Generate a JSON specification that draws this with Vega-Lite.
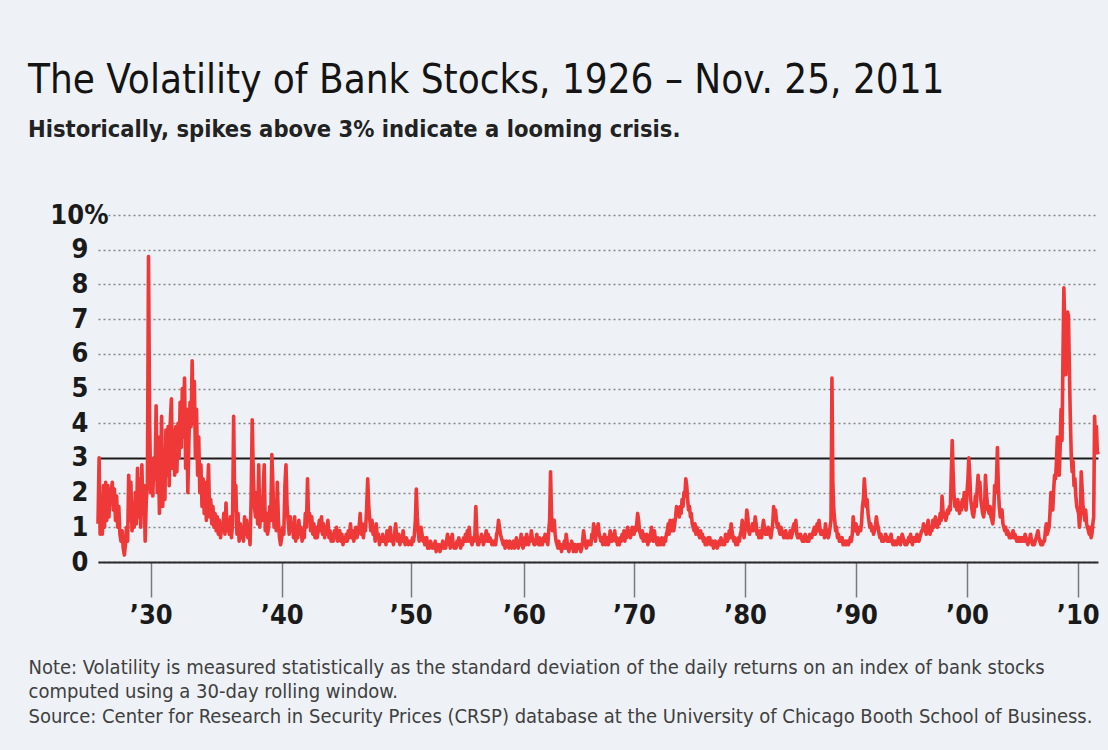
{
  "$schema": "https://vega.github.io/schema/vega-lite/v6.json",
  "autosize": {"type": "none"},
  "width": 1000,
  "height": 347,
  "padding": {"left": 98, "top": 215, "right": 10, "bottom": 188},
  "background": "#eef2f7",
  "config": {"view": {"stroke": null}, "font": "DejaVu Sans Condensed"},
  "title": {
    "text": "The Volatility of Bank Stocks, 1926 – Nov. 25, 2011",
    "subtitle": "Historically, spikes above 3% indicate a looming crisis.",
    "anchor": "start",
    "frame": "group",
    "dx": -70,
    "offset": 60,
    "font": "DejaVu Sans Condensed",
    "fontSize": 40,
    "fontWeight": "normal",
    "color": "#141414",
    "subtitleFont": "DejaVu Sans Condensed",
    "subtitleFontSize": 23.5,
    "subtitleFontWeight": "bold",
    "subtitleColor": "#222222",
    "subtitlePadding": 17
  },
  "data": {
    "format": {"parse": {"d": "date"}},
    "values": [
      {"d":"1926-01","v":1.1},{"d":"1926-02","v":3.0},{"d":"1926-03","v":0.8},{"d":"1926-04","v":1.6},{"d":"1926-05","v":0.8},{"d":"1926-06","v":2.2},{"d":"1926-07","v":1.0},{"d":"1926-08","v":2.3},{"d":"1926-09","v":1.2},{"d":"1926-10","v":2.2},{"d":"1926-11","v":1.3},{"d":"1926-12","v":2.1},
      {"d":"1927-01","v":2.0},{"d":"1927-02","v":2.3},{"d":"1927-03","v":1.5},{"d":"1927-04","v":2.1},{"d":"1927-05","v":1.2},{"d":"1927-06","v":1.9},{"d":"1927-07","v":1.0},{"d":"1927-08","v":1.6},{"d":"1927-09","v":0.8},{"d":"1927-10","v":0.6},{"d":"1927-11","v":0.9},{"d":"1927-12","v":0.4},
      {"d":"1928-01","v":0.2},{"d":"1928-02","v":0.5},{"d":"1928-03","v":1.0},{"d":"1928-04","v":0.6},{"d":"1928-05","v":2.5},{"d":"1928-06","v":1.2},{"d":"1928-07","v":2.3},{"d":"1928-08","v":0.9},{"d":"1928-09","v":1.4},{"d":"1928-10","v":1.0},{"d":"1928-11","v":2.0},{"d":"1928-12","v":1.1},
      {"d":"1929-01","v":2.7},{"d":"1929-02","v":1.3},{"d":"1929-03","v":2.4},{"d":"1929-04","v":1.0},{"d":"1929-05","v":2.8},{"d":"1929-06","v":1.4},{"d":"1929-07","v":2.2},{"d":"1929-08","v":0.6},{"d":"1929-09","v":1.8},{"d":"1929-10","v":2.2},{"d":"1929-11","v":8.8},{"d":"1929-12","v":4.2},
      {"d":"1930-01","v":2.0},{"d":"1930-02","v":2.7},{"d":"1930-03","v":1.9},{"d":"1930-04","v":3.0},{"d":"1930-05","v":2.4},{"d":"1930-06","v":4.5},{"d":"1930-07","v":2.0},{"d":"1930-08","v":3.6},{"d":"1930-09","v":1.4},{"d":"1930-10","v":2.5},{"d":"1930-11","v":4.2},{"d":"1930-12","v":1.6},
      {"d":"1931-01","v":3.0},{"d":"1931-02","v":1.8},{"d":"1931-03","v":3.8},{"d":"1931-04","v":2.5},{"d":"1931-05","v":3.9},{"d":"1931-06","v":2.2},{"d":"1931-07","v":4.0},{"d":"1931-08","v":4.7},{"d":"1931-09","v":2.7},{"d":"1931-10","v":3.8},{"d":"1931-11","v":2.5},{"d":"1931-12","v":3.9},
      {"d":"1932-01","v":2.6},{"d":"1932-02","v":4.0},{"d":"1932-03","v":3.0},{"d":"1932-04","v":4.6},{"d":"1932-05","v":3.3},{"d":"1932-06","v":5.0},{"d":"1932-07","v":3.6},{"d":"1932-08","v":5.3},{"d":"1932-09","v":2.7},{"d":"1932-10","v":4.4},{"d":"1932-11","v":2.0},{"d":"1932-12","v":3.5},
      {"d":"1933-01","v":4.6},{"d":"1933-02","v":3.9},{"d":"1933-03","v":5.8},{"d":"1933-04","v":4.0},{"d":"1933-05","v":5.2},{"d":"1933-06","v":3.0},{"d":"1933-07","v":4.4},{"d":"1933-08","v":2.5},{"d":"1933-09","v":3.6},{"d":"1933-10","v":2.0},{"d":"1933-11","v":2.8},{"d":"1933-12","v":1.6},
      {"d":"1934-01","v":2.4},{"d":"1934-02","v":1.4},{"d":"1934-03","v":2.3},{"d":"1934-04","v":1.2},{"d":"1934-05","v":1.9},{"d":"1934-06","v":2.8},{"d":"1934-07","v":1.3},{"d":"1934-08","v":1.8},{"d":"1934-09","v":1.1},{"d":"1934-10","v":1.6},{"d":"1934-11","v":1.0},{"d":"1934-12","v":1.4},
      {"d":"1935-01","v":0.9},{"d":"1935-02","v":1.3},{"d":"1935-03","v":0.8},{"d":"1935-04","v":1.2},{"d":"1935-05","v":0.7},{"d":"1935-06","v":1.0},{"d":"1935-07","v":0.9},{"d":"1935-08","v":1.4},{"d":"1935-09","v":0.8},{"d":"1935-10","v":1.7},{"d":"1935-11","v":0.9},{"d":"1935-12","v":1.2},
      {"d":"1936-01","v":0.8},{"d":"1936-02","v":1.3},{"d":"1936-03","v":0.7},{"d":"1936-04","v":1.1},{"d":"1936-05","v":4.2},{"d":"1936-06","v":1.5},{"d":"1936-07","v":2.2},{"d":"1936-08","v":0.8},{"d":"1936-09","v":1.4},{"d":"1936-10","v":0.6},{"d":"1936-11","v":1.1},{"d":"1936-12","v":0.7},
      {"d":"1937-01","v":1.0},{"d":"1937-02","v":0.6},{"d":"1937-03","v":1.3},{"d":"1937-04","v":0.8},{"d":"1937-05","v":1.2},{"d":"1937-06","v":0.7},{"d":"1937-07","v":1.0},{"d":"1937-08","v":0.5},{"d":"1937-09","v":1.8},{"d":"1937-10","v":4.1},{"d":"1937-11","v":2.5},{"d":"1937-12","v":1.6},
      {"d":"1938-01","v":1.3},{"d":"1938-02","v":2.0},{"d":"1938-03","v":1.1},{"d":"1938-04","v":2.8},{"d":"1938-05","v":1.0},{"d":"1938-06","v":1.8},{"d":"1938-07","v":1.2},{"d":"1938-08","v":2.0},{"d":"1938-09","v":2.8},{"d":"1938-10","v":0.9},{"d":"1938-11","v":1.4},{"d":"1938-12","v":0.8},
      {"d":"1939-01","v":1.0},{"d":"1939-02","v":1.6},{"d":"1939-03","v":1.2},{"d":"1939-04","v":3.1},{"d":"1939-05","v":2.2},{"d":"1939-06","v":1.0},{"d":"1939-07","v":1.5},{"d":"1939-08","v":0.9},{"d":"1939-09","v":2.3},{"d":"1939-10","v":1.2},{"d":"1939-11","v":0.7},{"d":"1939-12","v":0.5},
      {"d":"1940-01","v":0.7},{"d":"1940-02","v":1.0},{"d":"1940-03","v":0.8},{"d":"1940-04","v":2.2},{"d":"1940-05","v":2.8},{"d":"1940-06","v":1.6},{"d":"1940-07","v":1.2},{"d":"1940-08","v":0.8},{"d":"1940-09","v":1.3},{"d":"1940-10","v":0.9},{"d":"1940-11","v":1.1},{"d":"1940-12","v":0.7},
      {"d":"1941-01","v":1.3},{"d":"1941-02","v":0.6},{"d":"1941-03","v":0.9},{"d":"1941-04","v":0.7},{"d":"1941-05","v":1.2},{"d":"1941-06","v":0.8},{"d":"1941-07","v":1.0},{"d":"1941-08","v":0.6},{"d":"1941-09","v":0.9},{"d":"1941-10","v":0.7},{"d":"1941-11","v":1.4},{"d":"1941-12","v":1.0},
      {"d":"1942-01","v":2.4},{"d":"1942-02","v":1.2},{"d":"1942-03","v":1.4},{"d":"1942-04","v":0.9},{"d":"1942-05","v":1.3},{"d":"1942-06","v":0.8},{"d":"1942-07","v":1.1},{"d":"1942-08","v":0.7},{"d":"1942-09","v":1.0},{"d":"1942-10","v":0.7},{"d":"1942-11","v":0.9},{"d":"1942-12","v":1.2},
      {"d":"1943-01","v":0.9},{"d":"1943-02","v":1.3},{"d":"1943-03","v":0.8},{"d":"1943-04","v":1.1},{"d":"1943-05","v":0.7},{"d":"1943-06","v":1.0},{"d":"1943-07","v":0.8},{"d":"1943-08","v":1.2},{"d":"1943-09","v":0.7},{"d":"1943-10","v":0.9},{"d":"1943-11","v":0.6},{"d":"1943-12","v":0.8},
      {"d":"1944-01","v":0.6},{"d":"1944-02","v":0.9},{"d":"1944-03","v":0.7},{"d":"1944-04","v":1.0},{"d":"1944-05","v":0.6},{"d":"1944-06","v":0.8},{"d":"1944-07","v":0.9},{"d":"1944-08","v":0.6},{"d":"1944-09","v":0.8},{"d":"1944-10","v":0.5},{"d":"1944-11","v":0.7},{"d":"1944-12","v":0.6},
      {"d":"1945-01","v":0.8},{"d":"1945-02","v":0.6},{"d":"1945-03","v":0.9},{"d":"1945-04","v":0.7},{"d":"1945-05","v":1.1},{"d":"1945-06","v":0.7},{"d":"1945-07","v":0.9},{"d":"1945-08","v":0.6},{"d":"1945-09","v":0.8},{"d":"1945-10","v":1.0},{"d":"1945-11","v":0.7},{"d":"1945-12","v":0.9},
      {"d":"1946-01","v":1.0},{"d":"1946-02","v":1.4},{"d":"1946-03","v":0.8},{"d":"1946-04","v":1.1},{"d":"1946-05","v":0.7},{"d":"1946-06","v":1.0},{"d":"1946-07","v":0.9},{"d":"1946-08","v":1.5},{"d":"1946-09","v":2.4},{"d":"1946-10","v":1.6},{"d":"1946-11","v":1.2},{"d":"1946-12","v":0.9},
      {"d":"1947-01","v":1.2},{"d":"1947-02","v":0.8},{"d":"1947-03","v":1.0},{"d":"1947-04","v":0.6},{"d":"1947-05","v":1.1},{"d":"1947-06","v":0.7},{"d":"1947-07","v":0.8},{"d":"1947-08","v":0.5},{"d":"1947-09","v":0.7},{"d":"1947-10","v":0.6},{"d":"1947-11","v":0.8},{"d":"1947-12","v":0.6},
      {"d":"1948-01","v":0.7},{"d":"1948-02","v":0.5},{"d":"1948-03","v":0.9},{"d":"1948-04","v":0.6},{"d":"1948-05","v":0.8},{"d":"1948-06","v":1.0},{"d":"1948-07","v":0.6},{"d":"1948-08","v":0.7},{"d":"1948-09","v":0.5},{"d":"1948-10","v":0.8},{"d":"1948-11","v":1.1},{"d":"1948-12","v":0.7},
      {"d":"1949-01","v":0.6},{"d":"1949-02","v":0.8},{"d":"1949-03","v":0.5},{"d":"1949-04","v":0.7},{"d":"1949-05","v":0.6},{"d":"1949-06","v":0.9},{"d":"1949-07","v":0.6},{"d":"1949-08","v":0.5},{"d":"1949-09","v":0.7},{"d":"1949-10","v":0.6},{"d":"1949-11","v":0.5},{"d":"1949-12","v":0.6},
      {"d":"1950-01","v":0.6},{"d":"1950-02","v":0.5},{"d":"1950-03","v":0.7},{"d":"1950-04","v":0.6},{"d":"1950-05","v":0.8},{"d":"1950-06","v":1.2},{"d":"1950-07","v":2.1},{"d":"1950-08","v":1.3},{"d":"1950-09","v":0.9},{"d":"1950-10","v":0.6},{"d":"1950-11","v":0.8},{"d":"1950-12","v":1.0},
      {"d":"1951-01","v":0.8},{"d":"1951-02","v":0.6},{"d":"1951-03","v":0.7},{"d":"1951-04","v":0.5},{"d":"1951-05","v":0.6},{"d":"1951-06","v":0.7},{"d":"1951-07","v":0.4},{"d":"1951-08","v":0.5},{"d":"1951-09","v":0.4},{"d":"1951-10","v":0.6},{"d":"1951-11","v":0.5},{"d":"1951-12","v":0.4},
      {"d":"1952-01","v":0.5},{"d":"1952-02","v":0.4},{"d":"1952-03","v":0.6},{"d":"1952-04","v":0.3},{"d":"1952-05","v":0.5},{"d":"1952-06","v":0.4},{"d":"1952-07","v":0.5},{"d":"1952-08","v":0.3},{"d":"1952-09","v":0.4},{"d":"1952-10","v":0.5},{"d":"1952-11","v":0.6},{"d":"1952-12","v":0.4},
      {"d":"1953-01","v":0.5},{"d":"1953-02","v":0.4},{"d":"1953-03","v":0.6},{"d":"1953-04","v":0.8},{"d":"1953-05","v":0.5},{"d":"1953-06","v":0.7},{"d":"1953-07","v":0.4},{"d":"1953-08","v":0.6},{"d":"1953-09","v":0.8},{"d":"1953-10","v":0.5},{"d":"1953-11","v":0.4},{"d":"1953-12","v":0.5},
      {"d":"1954-01","v":0.4},{"d":"1954-02","v":0.6},{"d":"1954-03","v":0.5},{"d":"1954-04","v":0.7},{"d":"1954-05","v":0.5},{"d":"1954-06","v":0.4},{"d":"1954-07","v":0.6},{"d":"1954-08","v":0.5},{"d":"1954-09","v":0.7},{"d":"1954-10","v":0.6},{"d":"1954-11","v":0.8},{"d":"1954-12","v":0.6},
      {"d":"1955-01","v":0.9},{"d":"1955-02","v":0.6},{"d":"1955-03","v":1.0},{"d":"1955-04","v":0.7},{"d":"1955-05","v":0.6},{"d":"1955-06","v":0.5},{"d":"1955-07","v":0.7},{"d":"1955-08","v":0.6},{"d":"1955-09","v":0.8},{"d":"1955-10","v":1.6},{"d":"1955-11","v":0.9},{"d":"1955-12","v":0.5},
      {"d":"1956-01","v":0.5},{"d":"1956-02","v":0.7},{"d":"1956-03","v":0.6},{"d":"1956-04","v":0.8},{"d":"1956-05","v":0.7},{"d":"1956-06","v":0.5},{"d":"1956-07","v":0.6},{"d":"1956-08","v":0.7},{"d":"1956-09","v":0.9},{"d":"1956-10","v":0.6},{"d":"1956-11","v":0.8},{"d":"1956-12","v":0.6},
      {"d":"1957-01","v":0.7},{"d":"1957-02","v":0.6},{"d":"1957-03","v":0.5},{"d":"1957-04","v":0.6},{"d":"1957-05","v":0.5},{"d":"1957-06","v":0.6},{"d":"1957-07","v":0.5},{"d":"1957-08","v":0.8},{"d":"1957-09","v":0.9},{"d":"1957-10","v":1.2},{"d":"1957-11","v":1.0},{"d":"1957-12","v":0.8},
      {"d":"1958-01","v":0.7},{"d":"1958-02","v":0.6},{"d":"1958-03","v":0.5},{"d":"1958-04","v":0.6},{"d":"1958-05","v":0.4},{"d":"1958-06","v":0.5},{"d":"1958-07","v":0.6},{"d":"1958-08","v":0.5},{"d":"1958-09","v":0.4},{"d":"1958-10","v":0.6},{"d":"1958-11","v":0.5},{"d":"1958-12","v":0.4},
      {"d":"1959-01","v":0.5},{"d":"1959-02","v":0.6},{"d":"1959-03","v":0.4},{"d":"1959-04","v":0.5},{"d":"1959-05","v":0.7},{"d":"1959-06","v":0.5},{"d":"1959-07","v":0.4},{"d":"1959-08","v":0.6},{"d":"1959-09","v":0.5},{"d":"1959-10","v":0.8},{"d":"1959-11","v":0.5},{"d":"1959-12","v":0.4},
      {"d":"1960-01","v":0.6},{"d":"1960-02","v":0.7},{"d":"1960-03","v":0.5},{"d":"1960-04","v":0.8},{"d":"1960-05","v":0.6},{"d":"1960-06","v":0.5},{"d":"1960-07","v":0.7},{"d":"1960-08","v":0.6},{"d":"1960-09","v":0.9},{"d":"1960-10","v":0.7},{"d":"1960-11","v":0.6},{"d":"1960-12","v":0.5},
      {"d":"1961-01","v":0.5},{"d":"1961-02","v":0.6},{"d":"1961-03","v":0.8},{"d":"1961-04","v":0.6},{"d":"1961-05","v":0.5},{"d":"1961-06","v":0.7},{"d":"1961-07","v":0.5},{"d":"1961-08","v":0.6},{"d":"1961-09","v":0.5},{"d":"1961-10","v":0.7},{"d":"1961-11","v":0.6},{"d":"1961-12","v":0.8},
      {"d":"1962-01","v":0.7},{"d":"1962-02","v":0.6},{"d":"1962-03","v":0.5},{"d":"1962-04","v":0.9},{"d":"1962-05","v":1.2},{"d":"1962-06","v":2.6},{"d":"1962-07","v":1.4},{"d":"1962-08","v":0.9},{"d":"1962-09","v":1.1},{"d":"1962-10","v":1.2},{"d":"1962-11","v":0.8},{"d":"1962-12","v":0.6},
      {"d":"1963-01","v":0.5},{"d":"1963-02","v":0.4},{"d":"1963-03","v":0.6},{"d":"1963-04","v":0.4},{"d":"1963-05","v":0.5},{"d":"1963-06","v":0.3},{"d":"1963-07","v":0.5},{"d":"1963-08","v":0.4},{"d":"1963-09","v":0.6},{"d":"1963-10","v":0.4},{"d":"1963-11","v":0.8},{"d":"1963-12","v":0.6},
      {"d":"1964-01","v":0.4},{"d":"1964-02","v":0.3},{"d":"1964-03","v":0.5},{"d":"1964-04","v":0.4},{"d":"1964-05","v":0.6},{"d":"1964-06","v":0.5},{"d":"1964-07","v":0.3},{"d":"1964-08","v":0.4},{"d":"1964-09","v":0.5},{"d":"1964-10","v":0.3},{"d":"1964-11","v":0.4},{"d":"1964-12","v":0.5},
      {"d":"1965-01","v":0.4},{"d":"1965-02","v":0.5},{"d":"1965-03","v":0.3},{"d":"1965-04","v":0.4},{"d":"1965-05","v":0.6},{"d":"1965-06","v":0.9},{"d":"1965-07","v":0.7},{"d":"1965-08","v":0.5},{"d":"1965-09","v":0.4},{"d":"1965-10","v":0.5},{"d":"1965-11","v":0.6},{"d":"1965-12","v":0.5},
      {"d":"1966-01","v":0.6},{"d":"1966-02","v":0.5},{"d":"1966-03","v":0.8},{"d":"1966-04","v":0.7},{"d":"1966-05","v":1.1},{"d":"1966-06","v":0.8},{"d":"1966-07","v":0.6},{"d":"1966-08","v":1.0},{"d":"1966-09","v":0.9},{"d":"1966-10","v":1.1},{"d":"1966-11","v":0.8},{"d":"1966-12","v":0.7},
      {"d":"1967-01","v":0.6},{"d":"1967-02","v":0.7},{"d":"1967-03","v":0.5},{"d":"1967-04","v":0.6},{"d":"1967-05","v":0.8},{"d":"1967-06","v":0.5},{"d":"1967-07","v":0.6},{"d":"1967-08","v":0.7},{"d":"1967-09","v":0.5},{"d":"1967-10","v":0.6},{"d":"1967-11","v":0.9},{"d":"1967-12","v":0.7},
      {"d":"1968-01","v":0.6},{"d":"1968-02","v":0.8},{"d":"1968-03","v":0.7},{"d":"1968-04","v":0.9},{"d":"1968-05","v":0.6},{"d":"1968-06","v":0.7},{"d":"1968-07","v":0.5},{"d":"1968-08","v":0.6},{"d":"1968-09","v":0.5},{"d":"1968-10","v":0.7},{"d":"1968-11","v":0.6},{"d":"1968-12","v":0.8},
      {"d":"1969-01","v":0.7},{"d":"1969-02","v":0.9},{"d":"1969-03","v":0.6},{"d":"1969-04","v":0.8},{"d":"1969-05","v":0.7},{"d":"1969-06","v":1.0},{"d":"1969-07","v":0.8},{"d":"1969-08","v":0.9},{"d":"1969-09","v":0.7},{"d":"1969-10","v":0.8},{"d":"1969-11","v":1.0},{"d":"1969-12","v":0.9},
      {"d":"1970-01","v":0.8},{"d":"1970-02","v":1.0},{"d":"1970-03","v":0.9},{"d":"1970-04","v":1.1},{"d":"1970-05","v":1.4},{"d":"1970-06","v":1.2},{"d":"1970-07","v":0.9},{"d":"1970-08","v":0.8},{"d":"1970-09","v":0.7},{"d":"1970-10","v":0.9},{"d":"1970-11","v":0.6},{"d":"1970-12","v":0.8},
      {"d":"1971-01","v":0.7},{"d":"1971-02","v":0.6},{"d":"1971-03","v":0.8},{"d":"1971-04","v":0.5},{"d":"1971-05","v":0.7},{"d":"1971-06","v":0.6},{"d":"1971-07","v":0.8},{"d":"1971-08","v":1.0},{"d":"1971-09","v":0.7},{"d":"1971-10","v":0.6},{"d":"1971-11","v":0.9},{"d":"1971-12","v":0.7},
      {"d":"1972-01","v":0.6},{"d":"1972-02","v":0.5},{"d":"1972-03","v":0.7},{"d":"1972-04","v":0.5},{"d":"1972-05","v":0.6},{"d":"1972-06","v":0.5},{"d":"1972-07","v":0.7},{"d":"1972-08","v":0.6},{"d":"1972-09","v":0.5},{"d":"1972-10","v":0.7},{"d":"1972-11","v":0.6},{"d":"1972-12","v":0.8},
      {"d":"1973-01","v":0.9},{"d":"1973-02","v":1.1},{"d":"1973-03","v":0.8},{"d":"1973-04","v":1.2},{"d":"1973-05","v":1.0},{"d":"1973-06","v":0.9},{"d":"1973-07","v":1.2},{"d":"1973-08","v":0.9},{"d":"1973-09","v":1.1},{"d":"1973-10","v":1.3},{"d":"1973-11","v":1.6},{"d":"1973-12","v":1.4},
      {"d":"1974-01","v":1.5},{"d":"1974-02","v":1.3},{"d":"1974-03","v":1.6},{"d":"1974-04","v":1.4},{"d":"1974-05","v":1.8},{"d":"1974-06","v":1.6},{"d":"1974-07","v":2.0},{"d":"1974-08","v":1.9},{"d":"1974-09","v":2.4},{"d":"1974-10","v":2.2},{"d":"1974-11","v":1.8},{"d":"1974-12","v":1.5},
      {"d":"1975-01","v":1.6},{"d":"1975-02","v":1.3},{"d":"1975-03","v":1.4},{"d":"1975-04","v":1.1},{"d":"1975-05","v":1.0},{"d":"1975-06","v":0.9},{"d":"1975-07","v":1.1},{"d":"1975-08","v":0.8},{"d":"1975-09","v":1.0},{"d":"1975-10","v":0.9},{"d":"1975-11","v":0.8},{"d":"1975-12","v":0.7},
      {"d":"1976-01","v":0.9},{"d":"1976-02","v":0.7},{"d":"1976-03","v":0.8},{"d":"1976-04","v":0.6},{"d":"1976-05","v":0.7},{"d":"1976-06","v":0.5},{"d":"1976-07","v":0.6},{"d":"1976-08","v":0.5},{"d":"1976-09","v":0.7},{"d":"1976-10","v":0.6},{"d":"1976-11","v":0.7},{"d":"1976-12","v":0.5},
      {"d":"1977-01","v":0.5},{"d":"1977-02","v":0.6},{"d":"1977-03","v":0.4},{"d":"1977-04","v":0.5},{"d":"1977-05","v":0.6},{"d":"1977-06","v":0.5},{"d":"1977-07","v":0.4},{"d":"1977-08","v":0.5},{"d":"1977-09","v":0.6},{"d":"1977-10","v":0.5},{"d":"1977-11","v":0.7},{"d":"1977-12","v":0.6},
      {"d":"1978-01","v":0.5},{"d":"1978-02","v":0.6},{"d":"1978-03","v":0.5},{"d":"1978-04","v":0.8},{"d":"1978-05","v":0.7},{"d":"1978-06","v":0.6},{"d":"1978-07","v":0.7},{"d":"1978-08","v":0.9},{"d":"1978-09","v":0.7},{"d":"1978-10","v":1.1},{"d":"1978-11","v":0.9},{"d":"1978-12","v":0.7},
      {"d":"1979-01","v":0.6},{"d":"1979-02","v":0.7},{"d":"1979-03","v":0.5},{"d":"1979-04","v":0.6},{"d":"1979-05","v":0.5},{"d":"1979-06","v":0.7},{"d":"1979-07","v":0.6},{"d":"1979-08","v":0.8},{"d":"1979-09","v":0.9},{"d":"1979-10","v":1.2},{"d":"1979-11","v":0.9},{"d":"1979-12","v":0.7},
      {"d":"1980-01","v":0.9},{"d":"1980-02","v":1.1},{"d":"1980-03","v":1.5},{"d":"1980-04","v":1.3},{"d":"1980-05","v":0.9},{"d":"1980-06","v":0.8},{"d":"1980-07","v":1.0},{"d":"1980-08","v":0.9},{"d":"1980-09","v":1.1},{"d":"1980-10","v":0.9},{"d":"1980-11","v":1.0},{"d":"1980-12","v":1.3},
      {"d":"1981-01","v":1.1},{"d":"1981-02","v":0.8},{"d":"1981-03","v":0.9},{"d":"1981-04","v":0.7},{"d":"1981-05","v":0.8},{"d":"1981-06","v":0.9},{"d":"1981-07","v":0.7},{"d":"1981-08","v":1.0},{"d":"1981-09","v":1.2},{"d":"1981-10","v":1.0},{"d":"1981-11","v":0.8},{"d":"1981-12","v":0.9},
      {"d":"1982-01","v":0.8},{"d":"1982-02","v":1.0},{"d":"1982-03","v":0.9},{"d":"1982-04","v":0.8},{"d":"1982-05","v":0.7},{"d":"1982-06","v":0.9},{"d":"1982-07","v":1.1},{"d":"1982-08","v":1.6},{"d":"1982-09","v":1.3},{"d":"1982-10","v":1.5},{"d":"1982-11","v":1.2},{"d":"1982-12","v":1.0},
      {"d":"1983-01","v":1.1},{"d":"1983-02","v":0.9},{"d":"1983-03","v":0.8},{"d":"1983-04","v":1.0},{"d":"1983-05","v":0.9},{"d":"1983-06","v":0.8},{"d":"1983-07","v":0.7},{"d":"1983-08","v":0.8},{"d":"1983-09","v":0.9},{"d":"1983-10","v":0.7},{"d":"1983-11","v":0.8},{"d":"1983-12","v":0.7},
      {"d":"1984-01","v":0.8},{"d":"1984-02","v":0.9},{"d":"1984-03","v":0.7},{"d":"1984-04","v":0.8},{"d":"1984-05","v":1.0},{"d":"1984-06","v":1.1},{"d":"1984-07","v":0.9},{"d":"1984-08","v":1.2},{"d":"1984-09","v":0.8},{"d":"1984-10","v":0.7},{"d":"1984-11","v":0.8},{"d":"1984-12","v":0.7},
      {"d":"1985-01","v":0.8},{"d":"1985-02","v":0.7},{"d":"1985-03","v":0.6},{"d":"1985-04","v":0.7},{"d":"1985-05","v":0.6},{"d":"1985-06","v":0.8},{"d":"1985-07","v":0.7},{"d":"1985-08","v":0.6},{"d":"1985-09","v":0.7},{"d":"1985-10","v":0.6},{"d":"1985-11","v":0.8},{"d":"1985-12","v":0.7},
      {"d":"1986-01","v":0.7},{"d":"1986-02","v":0.8},{"d":"1986-03","v":0.9},{"d":"1986-04","v":1.0},{"d":"1986-05","v":0.8},{"d":"1986-06","v":0.9},{"d":"1986-07","v":1.1},{"d":"1986-08","v":0.9},{"d":"1986-09","v":1.2},{"d":"1986-10","v":1.0},{"d":"1986-11","v":0.8},{"d":"1986-12","v":0.9},
      {"d":"1987-01","v":0.8},{"d":"1987-02","v":0.9},{"d":"1987-03","v":0.7},{"d":"1987-04","v":1.1},{"d":"1987-05","v":0.9},{"d":"1987-06","v":0.8},{"d":"1987-07","v":0.7},{"d":"1987-08","v":0.8},{"d":"1987-09","v":1.0},{"d":"1987-10","v":1.2},{"d":"1987-11","v":5.3},{"d":"1987-12","v":2.3},
      {"d":"1988-01","v":1.5},{"d":"1988-02","v":1.2},{"d":"1988-03","v":0.9},{"d":"1988-04","v":1.0},{"d":"1988-05","v":0.7},{"d":"1988-06","v":0.8},{"d":"1988-07","v":0.6},{"d":"1988-08","v":0.7},{"d":"1988-09","v":0.6},{"d":"1988-10","v":0.7},{"d":"1988-11","v":0.5},{"d":"1988-12","v":0.6},
      {"d":"1989-01","v":0.5},{"d":"1989-02","v":0.6},{"d":"1989-03","v":0.5},{"d":"1989-04","v":0.6},{"d":"1989-05","v":0.5},{"d":"1989-06","v":0.6},{"d":"1989-07","v":0.7},{"d":"1989-08","v":0.6},{"d":"1989-09","v":0.8},{"d":"1989-10","v":1.3},{"d":"1989-11","v":1.0},{"d":"1989-12","v":0.9},
      {"d":"1990-01","v":1.1},{"d":"1990-02","v":0.9},{"d":"1990-03","v":0.8},{"d":"1990-04","v":0.9},{"d":"1990-05","v":1.0},{"d":"1990-06","v":0.9},{"d":"1990-07","v":1.1},{"d":"1990-08","v":1.6},{"d":"1990-09","v":1.8},{"d":"1990-10","v":2.4},{"d":"1990-11","v":2.0},{"d":"1990-12","v":1.6},
      {"d":"1991-01","v":1.8},{"d":"1991-02","v":1.4},{"d":"1991-03","v":1.2},{"d":"1991-04","v":1.0},{"d":"1991-05","v":1.1},{"d":"1991-06","v":0.9},{"d":"1991-07","v":1.0},{"d":"1991-08","v":0.8},{"d":"1991-09","v":0.9},{"d":"1991-10","v":1.0},{"d":"1991-11","v":1.3},{"d":"1991-12","v":1.1},
      {"d":"1992-01","v":1.0},{"d":"1992-02","v":0.8},{"d":"1992-03","v":0.7},{"d":"1992-04","v":0.8},{"d":"1992-05","v":0.6},{"d":"1992-06","v":0.7},{"d":"1992-07","v":0.6},{"d":"1992-08","v":0.7},{"d":"1992-09","v":0.8},{"d":"1992-10","v":0.7},{"d":"1992-11","v":0.6},{"d":"1992-12","v":0.7},
      {"d":"1993-01","v":0.6},{"d":"1993-02","v":0.7},{"d":"1993-03","v":0.8},{"d":"1993-04","v":0.6},{"d":"1993-05","v":0.5},{"d":"1993-06","v":0.6},{"d":"1993-07","v":0.5},{"d":"1993-08","v":0.6},{"d":"1993-09","v":0.5},{"d":"1993-10","v":0.6},{"d":"1993-11","v":0.7},{"d":"1993-12","v":0.6},
      {"d":"1994-01","v":0.5},{"d":"1994-02","v":0.7},{"d":"1994-03","v":0.8},{"d":"1994-04","v":0.7},{"d":"1994-05","v":0.6},{"d":"1994-06","v":0.5},{"d":"1994-07","v":0.6},{"d":"1994-08","v":0.5},{"d":"1994-09","v":0.6},{"d":"1994-10","v":0.7},{"d":"1994-11","v":0.6},{"d":"1994-12","v":0.8},
      {"d":"1995-01","v":0.6},{"d":"1995-02","v":0.5},{"d":"1995-03","v":0.7},{"d":"1995-04","v":0.6},{"d":"1995-05","v":0.7},{"d":"1995-06","v":0.6},{"d":"1995-07","v":0.8},{"d":"1995-08","v":0.7},{"d":"1995-09","v":0.6},{"d":"1995-10","v":0.7},{"d":"1995-11","v":0.8},{"d":"1995-12","v":0.9},
      {"d":"1996-01","v":0.9},{"d":"1996-02","v":1.1},{"d":"1996-03","v":1.0},{"d":"1996-04","v":0.9},{"d":"1996-05","v":0.8},{"d":"1996-06","v":1.0},{"d":"1996-07","v":1.2},{"d":"1996-08","v":0.9},{"d":"1996-09","v":0.8},{"d":"1996-10","v":1.0},{"d":"1996-11","v":0.9},{"d":"1996-12","v":1.2},
      {"d":"1997-01","v":1.0},{"d":"1997-02","v":1.2},{"d":"1997-03","v":1.3},{"d":"1997-04","v":1.1},{"d":"1997-05","v":1.0},{"d":"1997-06","v":1.2},{"d":"1997-07","v":1.1},{"d":"1997-08","v":1.4},{"d":"1997-09","v":1.2},{"d":"1997-10","v":1.9},{"d":"1997-11","v":1.5},{"d":"1997-12","v":1.3},
      {"d":"1998-01","v":1.4},{"d":"1998-02","v":1.2},{"d":"1998-03","v":1.3},{"d":"1998-04","v":1.5},{"d":"1998-05","v":1.4},{"d":"1998-06","v":1.6},{"d":"1998-07","v":1.5},{"d":"1998-08","v":2.5},{"d":"1998-09","v":3.5},{"d":"1998-10","v":2.6},{"d":"1998-11","v":1.9},{"d":"1998-12","v":1.6},
      {"d":"1999-01","v":1.7},{"d":"1999-02","v":1.5},{"d":"1999-03","v":1.8},{"d":"1999-04","v":1.6},{"d":"1999-05","v":1.4},{"d":"1999-06","v":1.7},{"d":"1999-07","v":1.5},{"d":"1999-08","v":1.8},{"d":"1999-09","v":1.6},{"d":"1999-10","v":2.0},{"d":"1999-11","v":1.7},{"d":"1999-12","v":1.5},
      {"d":"2000-01","v":2.0},{"d":"2000-02","v":2.4},{"d":"2000-03","v":3.0},{"d":"2000-04","v":2.5},{"d":"2000-05","v":1.8},{"d":"2000-06","v":1.6},{"d":"2000-07","v":1.4},{"d":"2000-08","v":1.3},{"d":"2000-09","v":1.5},{"d":"2000-10","v":1.9},{"d":"2000-11","v":1.6},{"d":"2000-12","v":2.1},
      {"d":"2001-01","v":2.5},{"d":"2001-02","v":2.0},{"d":"2001-03","v":2.3},{"d":"2001-04","v":1.8},{"d":"2001-05","v":1.6},{"d":"2001-06","v":1.4},{"d":"2001-07","v":1.3},{"d":"2001-08","v":1.5},{"d":"2001-09","v":2.5},{"d":"2001-10","v":2.0},{"d":"2001-11","v":1.7},{"d":"2001-12","v":1.5},
      {"d":"2002-01","v":1.4},{"d":"2002-02","v":1.6},{"d":"2002-03","v":1.3},{"d":"2002-04","v":1.2},{"d":"2002-05","v":1.1},{"d":"2002-06","v":1.4},{"d":"2002-07","v":2.2},{"d":"2002-08","v":2.0},{"d":"2002-09","v":2.4},{"d":"2002-10","v":3.3},{"d":"2002-11","v":2.1},{"d":"2002-12","v":1.6},
      {"d":"2003-01","v":1.3},{"d":"2003-02","v":1.4},{"d":"2003-03","v":1.5},{"d":"2003-04","v":1.1},{"d":"2003-05","v":1.0},{"d":"2003-06","v":0.9},{"d":"2003-07","v":1.0},{"d":"2003-08","v":0.8},{"d":"2003-09","v":0.9},{"d":"2003-10","v":0.8},{"d":"2003-11","v":0.7},{"d":"2003-12","v":0.8},
      {"d":"2004-01","v":0.7},{"d":"2004-02","v":0.8},{"d":"2004-03","v":0.9},{"d":"2004-04","v":0.7},{"d":"2004-05","v":0.8},{"d":"2004-06","v":0.7},{"d":"2004-07","v":0.6},{"d":"2004-08","v":0.7},{"d":"2004-09","v":0.6},{"d":"2004-10","v":0.7},{"d":"2004-11","v":0.6},{"d":"2004-12","v":0.7},
      {"d":"2005-01","v":0.6},{"d":"2005-02","v":0.7},{"d":"2005-03","v":0.6},{"d":"2005-04","v":0.8},{"d":"2005-05","v":0.7},{"d":"2005-06","v":0.6},{"d":"2005-07","v":0.5},{"d":"2005-08","v":0.6},{"d":"2005-09","v":0.7},{"d":"2005-10","v":0.8},{"d":"2005-11","v":0.6},{"d":"2005-12","v":0.5},
      {"d":"2006-01","v":0.6},{"d":"2006-02","v":0.5},{"d":"2006-03","v":0.6},{"d":"2006-04","v":0.7},{"d":"2006-05","v":0.8},{"d":"2006-06","v":0.9},{"d":"2006-07","v":0.7},{"d":"2006-08","v":0.6},{"d":"2006-09","v":0.5},{"d":"2006-10","v":0.6},{"d":"2006-11","v":0.5},{"d":"2006-12","v":0.6},
      {"d":"2007-01","v":0.6},{"d":"2007-02","v":0.9},{"d":"2007-03","v":1.1},{"d":"2007-04","v":0.8},{"d":"2007-05","v":0.9},{"d":"2007-06","v":1.0},{"d":"2007-07","v":1.4},{"d":"2007-08","v":2.0},{"d":"2007-09","v":1.6},{"d":"2007-10","v":1.5},{"d":"2007-11","v":2.1},{"d":"2007-12","v":2.5},
      {"d":"2008-01","v":2.4},{"d":"2008-02","v":2.9},{"d":"2008-03","v":3.6},{"d":"2008-04","v":2.8},{"d":"2008-05","v":2.5},{"d":"2008-06","v":3.3},{"d":"2008-07","v":4.4},{"d":"2008-08","v":3.5},{"d":"2008-09","v":5.8},{"d":"2008-10","v":7.9},{"d":"2008-11","v":6.8},{"d":"2008-12","v":5.4},
      {"d":"2009-01","v":6.3},{"d":"2009-02","v":7.2},{"d":"2009-03","v":7.1},{"d":"2009-04","v":5.6},{"d":"2009-05","v":4.2},{"d":"2009-06","v":3.1},{"d":"2009-07","v":2.6},{"d":"2009-08","v":2.9},{"d":"2009-09","v":2.2},{"d":"2009-10","v":2.4},{"d":"2009-11","v":1.9},{"d":"2009-12","v":1.6},
      {"d":"2010-01","v":1.5},{"d":"2010-02","v":1.4},{"d":"2010-03","v":1.0},{"d":"2010-04","v":1.3},{"d":"2010-05","v":2.6},{"d":"2010-06","v":2.1},{"d":"2010-07","v":1.6},{"d":"2010-08","v":1.4},{"d":"2010-09","v":1.2},{"d":"2010-10","v":1.5},{"d":"2010-11","v":1.1},{"d":"2010-12","v":1.0},
      {"d":"2011-01","v":0.9},{"d":"2011-02","v":0.8},{"d":"2011-03","v":1.0},{"d":"2011-04","v":0.7},{"d":"2011-05","v":0.8},{"d":"2011-06","v":1.1},{"d":"2011-07","v":1.3},{"d":"2011-08","v":4.2},{"d":"2011-09","v":3.5},{"d":"2011-10","v":3.9},{"d":"2011-11","v":3.2},{"d":"2011-11-25","v":3.1}
    ]
  },
  "mark": {"type": "line", "color": "#ef3838", "strokeWidth": 3.6, "strokeJoin": "round"},
  "encoding": {
    "x": {
      "field": "d",
      "type": "quantitative",
      "scale": {
        "type": "linear",
        "nice": false,
        "zero": false,
        "domain": [-1388534400000, -1262304000000, -946771200000, -631152000000, -315619200000, 0, 315532800000, 631152000000, 946684800000, 1262304000000, 1322179200000],
        "range": [0, 52.7, 183.7, 312.7, 426, 536, 647, 758, 869, 979.7, 1000]
      },
      "axis": {
        "values": [-1262304000000, -946771200000, -631152000000, -315619200000, 0, 315532800000, 631152000000, 946684800000, 1262304000000],
        "labelExpr": "'’' + utcFormat(datum.value, '%y')",
        "grid": false,
        "domain": true,
        "domainColor": "#2a2a2a",
        "domainWidth": 2,
        "ticks": true,
        "tickSize": 35,
        "tickColor": "#7a7a7a",
        "tickWidth": 1.5,
        "labelPadding": 5,
        "labelFont": "DejaVu Sans Condensed",
        "labelFontSize": 27,
        "labelFontWeight": "bold",
        "labelColor": "#1a1a1a",
        "labelFlush": false,
        "labelOverlap": false,
        "title": [
          "Note: Volatility is measured statistically as the standard deviation of the daily returns on an index of bank stocks",
          "computed using a 30-day rolling window.",
          "Source: Center for Research in Security Prices (CRSP) database at the University of Chicago Booth School of Business."
        ],
        "titleFont": "DejaVu Sans Condensed",
        "titleFontSize": 20,
        "titleFontWeight": "normal",
        "titleColor": "#404040",
        "titleAnchor": "start",
        "titleAlign": "left",
        "titleBaseline": "alphabetic",
        "titleX": -70,
        "titleY": 111,
        "titleLineHeight": 24.5
      }
    },
    "y": {
      "field": "v",
      "type": "quantitative",
      "scale": {"domain": [0, 10], "nice": false},
      "axis": {
        "values": [0, 1, 2, 3, 4, 5, 6, 7, 8, 9, 10],
        "labelExpr": "datum.value == 10 ? '10%' : datum.label",
        "title": null,
        "domain": false,
        "ticks": false,
        "labelOverlap": false,
        "labelPadding": {"condition": {"test": "datum.value == 10", "value": -10}, "value": 10},
        "labelFont": "DejaVu Sans Condensed",
        "labelFontSize": 27,
        "labelFontWeight": "bold",
        "labelColor": "#1a1a1a",
        "labelFlush": false,
        "grid": true,
        "gridColor": {"condition": {"test": "datum.value == 3", "value": "#1a1a1a"}, "value": "#858585"},
        "gridDash": {"condition": {"test": "datum.value == 3", "value": []}, "value": [2, 3]},
        "gridWidth": {"condition": {"test": "datum.value == 3", "value": 2}, "value": 1.5}
      }
    }
  }
}
